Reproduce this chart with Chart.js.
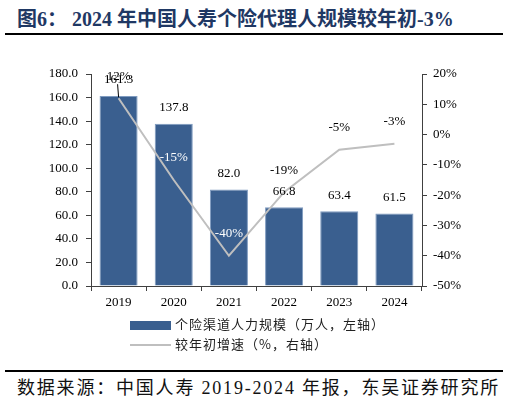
<!DOCTYPE html>
<html>
<head>
<meta charset="utf-8">
<script src="https://cdn.jsdelivr.net/npm/chart.js@4.4.1/dist/chart.umd.min.js"></script>
<style>
  body { margin: 0; background: #fff; width: 509px; height: 402px; position: relative; overflow: hidden; }
  #title { position: absolute; left: 17px; top: 3px; font: bold 20px "Liberation Serif", "Noto Sans CJK SC"; color: #1F3864; white-space: nowrap; }
  .rule { position: absolute; left: 5px; width: 498px; height: 2px; background: #000; }
  #wrap { position: absolute; left: 0; top: 0; width: 509px; height: 318px; }
  .leg { position: absolute; left: 130px; font: 13px "Noto Sans CJK SC"; letter-spacing: 1px; color: #222; white-space: nowrap; }
  .leg i { display: inline-block; width: 41px; vertical-align: middle; margin-right: 4px; }
  #source { position: absolute; left: 17px; top: 373px; font: 18px "Liberation Serif", "Noto Sans CJK SC"; letter-spacing: 1.8px; color: #111; white-space: nowrap; }
</style>
</head>
<body>
<div id="title">图6：&nbsp;2024 年中国人寿个险代理人规模较年初-3%</div>
<div class="rule" style="top:33px"></div>
<div id="wrap"><canvas id="myChart"></canvas></div>
<div class="leg" style="top:314px"><i style="height:9px;background:#3A5F8F"></i>个险渠道人力规模（万人，左轴）</div>
<div class="leg" style="top:334px"><i style="height:2px;background:#BFBFBF"></i>较年初增速（%，右轴）</div>
<div class="rule" style="top:370px"></div>
<div id="source">数据来源：中国人寿 2019-2024 年报，东吴证券研究所</div>
<script>
var years = ['2019', '2020', '2021', '2022', '2023', '2024'];
var agents = [161.3, 137.8, 82.0, 66.8, 63.4, 61.5];
var growth = [12, -15, -40, -19, -5, -3];
var growthLabelColors = ['#000', '#fff', '#fff', '#000', '#000', '#000'];

var serif = 'Liberation Serif';

var labelPlugin = {
    id: 'labels',
    afterDatasetsDraw: function(chart) {
        var c = chart.ctx;
        c.save();
        c.font = '13px "' + serif + '"';
        c.textAlign = 'center';
        c.textBaseline = 'middle';
        // bar values
        chart.getDatasetMeta(0).data.forEach(function(bar, i) {
            c.fillStyle = '#000';
            c.fillText(agents[i].toFixed(1), bar.x, bar.y - 16);
        });
        // growth values
        chart.getDatasetMeta(1).data.forEach(function(pt, i) {
            var y = pt.y - 22;
            c.fillStyle = growthLabelColors[i];
            c.fillText(growth[i] + '%', pt.x, y);
            if (i == 0) {
                // leader line
                c.strokeStyle = '#000';
                c.lineWidth = 1;
                c.beginPath();
                c.moveTo(pt.x - 1, y + 8);
                c.lineTo(pt.x, pt.y - 1);
                c.stroke();
            }
        });
        c.restore();
    }
};

var ctx = document.getElementById('myChart').getContext('2d');
var myChart = new Chart(ctx, {
    type: 'bar',
    data: {
        labels: years,
        datasets: [{
            label: '个险渠道人力规模（万人，左轴）',
            data: agents,
            backgroundColor: '#3A5F8F',
            borderColor: '#7F9BC0',
            borderWidth: 1,
            barPercentage: 0.69,
            categoryPercentage: 1,
            yAxisID: 'y',
            order: 1
        }, {
            type: 'line',
            label: '较年初增速（%，右轴）',
            data: growth,
            borderColor: '#BFBFBF',
            borderWidth: 2,
            pointRadius: 0,
            tension: 0,
            yAxisID: 'y1',
            order: 0
        }]
    },
    options: {
        responsive: true,
        maintainAspectRatio: false,
        animation: false,
        layout: { padding: { top: 74, left: 0, right: 0, bottom: 0 } },
        plugins: {
            legend: { display: false },
            tooltip: { enabled: false }
        },
        scales: {
            x: {
                grid: { drawOnChartArea: false, tickLength: 5, color: '#404040' },
                border: { color: '#404040' },
                ticks: { color: '#000', font: { family: serif, size: 13 }, padding: 4 },
                afterFit: function(s) { s.height = 32; }
            },
            y: {
                position: 'left',
                min: 0,
                max: 180,
                grid: { drawOnChartArea: false, tickLength: 5, color: '#404040' },
                border: { color: '#404040' },
                ticks: {
                    stepSize: 20,
                    color: '#000',
                    font: { family: serif, size: 13 },
                    padding: 8,
                    callback: function(value) { return value.toFixed(1); }
                },
                afterFit: function(s) { s.width = 91; }
            },
            y1: {
                position: 'right',
                min: -50,
                max: 20,
                grid: { drawOnChartArea: false, tickLength: 5, color: '#404040' },
                border: { color: '#404040' },
                ticks: {
                    stepSize: 10,
                    color: '#000',
                    font: { family: serif, size: 13 },
                    padding: 6,
                    callback: function(value) { return value + '%'; }
                },
                afterFit: function(s) { s.width = 87; }
            }
        }
    },
    plugins: [labelPlugin]
});
</script>
</body>
</html>
